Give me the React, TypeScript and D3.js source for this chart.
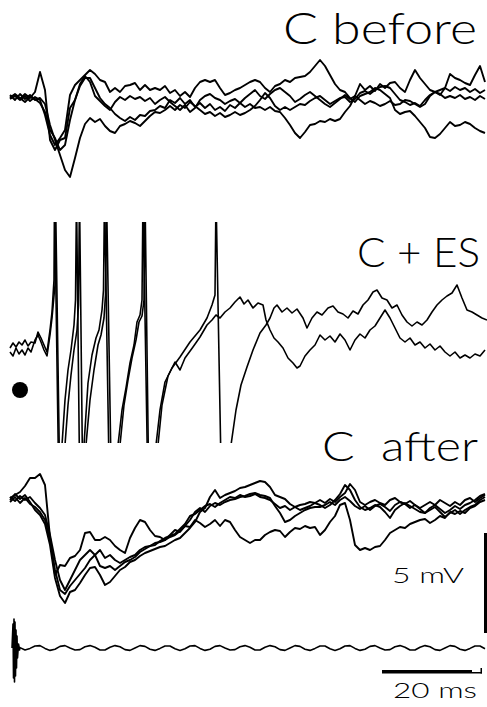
import * as d3 from 'd3';
import { useMemo } from 'react';

// time axis: samples every 1 ms, 0..95 ms
const dt = 1;

// "C before" – four sweeps, mV relative to resting level
const beforeA = [
    0, 0.1, -0.1, 0.15, -0.05, 0.25, 1.25, 0.35, -2.15, -2.65, -2.15, -2.05, -0.55, -0.15, 0.55, 0.95, 0.95, 0.45, -0.05, -0.35,
    -0.55, -0.85, -1.05, -1.2, -1.0, -1.15, -0.9, -0.95, -0.7, -0.65, -0.45, -0.55, -0.15, -0.3, -0.05, -0.35, -0.15, -0.5, -0.3, -0.55,
    -0.35, -0.65, -0.5, -0.7, -0.4, -0.55, -0.3, -0.5, -0.35, -0.55, -0.5, -0.65, -0.5, -0.7, -0.75, -1.05, -1.4, -1.8, -2.05, -1.75,
    -1.4, -1.35, -1.2, -1.25, -1.1, -1.2, -1.1, -0.75, -0.45, 0.05, 0.65, 0.35, 0.55, 0.3, 0.65, 0.45, 0.7, 0.75, 0.45, 0.25,
    0.85, 1.35, 0.95, 0.65, 0.35, 0.25, 0.1, 0.45, 1.15, 0.95, 0.85, 0.7, 0.6, 1.1, 1.55, 0.75,
];
const beforeB = [
    -0.1, 0.05, -0.15, 0.05, -0.2, 0, -0.15, -0.9, -1.9, -2.4, -2.05, -1.65, 0.1, 0.6, 0.85, 1.1, 1.35, 1.15, 0.85, 0.75,
    0.25, 0.45, 0.25, 0.55, 0.6, 0.7, 0.35, 0.6, 0.35, 0.45, 0.35, 0.55, 0.2, 0.35, 0.05, 0.25, 0, 0.45, 0.75, 0.85,
    0.75, 0.85, 0.45, 0.1, 0.2, 0.35, 0.45, 0.6, 0.75, 0.85, 0.75, 0.45, 0.25, 0.55, 0.65, 0.85, 0.75, 0.95, 1.0, 1.05,
    1.25, 1.55, 1.85, 1.55, 1.1, 0.65, 0.35, 0.25, -0.05, -0.25, 0.05, 0.15, 0.25, 0.45, 0.35, 0.15, -0.05, -0.65, -0.85, -0.75,
    -0.7, -0.95, -1.25, -1.55, -2.0, -2.05, -1.85, -1.55, -1.25, -1.45, -1.4, -1.25, -1.35, -1.55, -1.7, -1.8,
];
const beforeC = [
    0.1, -0.15, 0.15, -0.1, 0.1, -0.15, -0.05, -0.35, -1.4, -2.15, -2.9, -3.65, -4.0, -3.05, -2.05, -1.35, -1.05, -1.25, -1.1, -1.45,
    -1.7, -1.8, -1.45, -1.35, -1.2, -1.3, -1.45, -1.2, -0.95, -0.75, -0.8, -0.65, -0.45, -0.65, -0.4, -0.55, -0.25, -0.45, -0.65, -0.85,
    -0.75, -0.95, -0.8, -1.0, -0.9, -0.75, -0.9, -0.8, -0.65, -0.45, -0.15, 0.2, -0.05, -0.45, -0.65, -0.5, -0.65, -0.5, -0.35, -0.4,
    -0.2, -0.05, 0.05, -0.15, -0.35, -0.2, -0.05, 0, -0.25, -0.1, 0.2, 0.3, 0.15, 0.35, 0.5, 0.55, 0.45, 0.15, -0.15, -0.25,
    -0.4, -0.3, -0.45, -0.15, 0.1, 0.25, 0.35, 0.45, 0.3, 0.5, 0.35, 0.45, 0.25, 0.4, 0.2, 0.35,
];
const beforeD = [
    -0.05, 0.15, -0.05, -0.25, 0, -0.1, -0.3, -0.75, -1.65, -2.05, -2.65, -2.4, -1.15, -0.15, 0.65, 1.05, 0.75, 0.05, -0.2, -0.45,
    -0.65, -0.25, 0, -0.15, 0.05, -0.1, 0, -0.2, -0.05, -0.35, -0.15, 0, -0.25, -0.45, -0.65, -0.4, -0.75, -0.55, -0.15, 0.05,
    0.15, -0.05, -0.15, -0.35, -0.2, -0.1, -0.3, -0.05, 0.15, 0.35, 0.05, -0.1, 0.15, 0.35, 0.45, 0.25, 0.05, -0.25, -0.1, 0.1,
    0.25, 0.05, -0.15, -0.35, -0.5, -0.3, -0.1, 0.1, -0.1, 0.05, -0.15, -0.35, -0.2, -0.3, -0.45, -0.35, -0.2, -0.4, -0.35, -0.15,
    -0.2, -0.35, -0.5, -0.35, 0.05, 0.25, 0.15, -0.05, 0.05, -0.05, 0.1, -0.1, 0, -0.15, 0.05, -0.1,
];

// "C + ES" – two sweeps with spikes, [ms, mV] (spikes clipped by the panel)
const esP: [number, number][] = [
    [0, -0.15], [0.6, 0.1], [1.2, -0.1], [1.8, 0.15], [2.4, 0], [3, 0.25], [3.6, -0.05], [4.2, 0.15], [5, 0.1], [5.6, 0.65],
    [6.2, 0.35], [6.8, 0], [7.4, -0.35], [8, 0.75], [8.4, 1.65], [8.8, 3.25], [8.9, 7.5], [9.7, -6], [10.4, -5], [11, -2.75],
    [11.6, -1.25], [12.2, -0.25], [12.8, 1.0], [13.1, 2.25], [13.3, 7.5], [13.9, -6], [14.8, -5], [15.6, -1.9], [16.4, -0.5], [17.2, 0.35],
    [17.8, 0.75], [18.4, 1.75], [18.7, 2.75], [18.9, 7.5], [19.8, -6], [21.6, -5], [22.4, -3.25], [23.2, -2.15], [24, -0.9], [24.8, 0],
    [25.4, 1.15], [26, 1.5], [26.4, 2.25], [26.6, 7.5], [27.5, -6], [29.2, -5], [30, -3.25], [31, -1.85], [32.4, -1.15], [34, -0.6],
    [36, 0.15], [38, 0.75], [39.4, 1.35], [40.4, 2.0], [41, 2.5], [41.2, 7.5], [42.2, -6], [44.2, -5], [45.2, -3.25], [46.2, -2],
    [47.4, -1.1], [48.6, -0.25], [50, 0.6], [51.2, 1.0], [52, 1.35], [52.8, 1.85], [53.4, 2.0], [54.4, 1.65], [55.4, 1.85], [56.4, 1.6],
    [57.4, 1.8], [58.6, 1.35], [59.4, 0.85], [60.4, 1.35], [61.4, 1.65], [62.4, 1.5], [63.6, 1.85], [64.6, 1.95], [65.6, 1.65], [66.6, 1.55],
    [67.6, 1.35], [68.6, 1.7], [69.6, 1.55], [70.6, 2.0], [71.6, 2.25], [72.6, 2.65], [73.4, 2.75], [74.4, 2.35], [75.4, 2.25], [76.4, 1.85],
    [77.4, 2.0], [78.4, 1.5], [79.4, 1.15], [80.4, 0.95], [81.4, 1.15], [82.4, 1.0], [83.4, 1.25], [84.4, 1.65], [85.4, 2.0], [86.4, 2.25],
    [87.4, 2.45], [88.4, 2.6], [89.4, 3.0], [90.4, 2.35], [91.4, 1.75], [92.4, 1.65], [93.4, 1.5], [94.4, 1.35], [95.4, 1.25],
];
const esQ: [number, number][] = [
    [0, -0.35], [0.6, -0.55], [1.2, -0.15], [1.8, -0.45], [2.4, -0.25], [3, -0.5], [3.6, -0.15], [4.2, -0.35], [5, 0.25], [5.6, 0.5],
    [6.2, 0.15], [6.8, -0.25], [7.4, -0.55], [8, 0.5], [8.4, 1.35], [9, 3.0], [9.1, 7.5], [9.9, -6], [11, -5], [11.6, -3],
    [12.2, -1.5], [12.8, -0.25], [13.4, 0.75], [13.7, 2.0], [13.9, 7.5], [14.5, -6], [15.2, -5], [16, -2.75], [16.8, -1.25], [17.6, 0],
    [18.2, 0.5], [18.8, 1.35], [19.1, 2.5], [19.3, 7.5], [20.2, -6], [22, -5], [22.8, -3], [23.6, -1.75], [24.4, -0.65], [25.2, 0.25],
    [25.8, 1.15], [26.4, 1.45], [26.8, 2.25], [27, 7.5], [27.7, -6], [29.6, -5], [30.4, -3], [31.6, -1.55], [33, -0.85], [34, -1.25],
    [35, -0.65], [36.6, -0.1], [38, 0.4], [39.4, 1.0], [40.4, 1.25], [41.2, 1.5], [42, 1.35], [43, 1.65], [44, 1.85], [45, 2.15],
    [46, 2.4], [46.8, 2.05], [47.6, 2.25], [48.6, 1.85], [49.6, 2.1], [50.6, 2.0], [51.2, 1.25], [52, 0.75], [52.8, 0.35], [53.6, 0.15],
    [54.6, -0.15], [55.6, -0.65], [56.6, -0.9], [57.4, -1.15], [58, -1.05], [59, -0.55], [60, -0.25], [61, 0], [62, 0.5], [63, 0.25],
    [64, 0.45], [65, 0.15], [66, 0.55], [67, 0.25], [68, -0.25], [69, 0.25], [70, 0.55], [71, 0.35], [72, 0.75], [73, 0.95],
    [74, 1.35], [75, 1.75], [76, 1.35], [77, 0.85], [78, 0.35], [79, 0.15], [80, 0.35], [81, 0], [82, 0.15], [83, -0.15],
    [84, 0.05], [85, -0.25], [86, -0.05], [87, -0.35], [88, -0.55], [89, -0.35], [90, -0.65], [91, -0.5], [92, -0.65], [93, -0.45],
    [94, -0.55], [95, -0.25],
];

// "C after" – four sweeps
const afterA = [
    0.1, 0.25, 0.4, 0.7, 1.1, 1.1, 1.3, 0.75, -1.85, -3.75, -3.25, -3.3, -2.9, -2.8, -2.5, -1.65, -1.6, -2.0, -2.0, -1.85,
    -2.0, -2.3, -2.5, -2.65, -1.9, -1.4, -1.0, -1.1, -1.5, -1.8, -1.85, -2.0, -1.75, -1.5, -1.6, -1.3, -1.35, -1.0, -1.15, -1.35,
    -1.2, -1.0, -1.3, -1.0, -1.1, -1.5, -1.85, -2.0, -2.15, -2.0, -2.0, -1.75, -1.6, -1.5, -1.55, -1.85, -1.6, -1.4, -1.45, -1.3,
    -1.4, -1.35, -1.75, -1.5, -1.1, -0.8, -0.25, -0.15, -1.0, -2.25, -2.5, -2.4, -2.5, -2.35, -2.3, -2.0, -1.65, -1.5, -1.35, -1.4,
    -1.2, -1.1, -1.0, -0.95, -1.15, -1.0, -0.8, -0.9, -0.6, -0.7, -0.55, -0.65, -0.4, -0.3, -0.1, 0,
];
const afterB = [
    0, 0.3, 0.05, 0.25, -0.1, -0.5, -0.75, -1.2, -2.25, -3.9, -4.8, -5.15, -4.6, -4.5, -4.15, -3.75, -3.4, -3.35, -3.75, -4.25,
    -4.1, -3.8, -3.5, -3.35, -3.1, -3.0, -2.8, -2.65, -2.55, -2.45, -2.35, -2.3, -2.15, -2.0, -1.9, -1.65, -1.4, -1.1, -0.6, -0.4,
    0.15, 0.5, 0.1, 0.25, 0.35, 0.45, 0.6, 0.65, 0.75, 0.85, 0.95, 0.9, 0.65, 0.25, 0.15, 0.05, -0.2, -0.35, -0.25, -0.2,
    -0.1, -0.15, -0.25, -0.4, -0.25, 0, 0.3, 0.75, 0.5, 0, -0.35, -0.5, -0.4, -0.25, -0.35, -0.6, -0.9, -0.5, -0.3, -0.15,
    -0.3, -0.45, -0.6, -0.65, -0.5, -0.35, -0.6, -0.85, -0.65, -0.5, -0.7, -0.5, -0.35, -0.25, 0, 0.15,
];
const afterC = [
    -0.1, 0.15, -0.15, 0.1, -0.2, -0.35, -0.6, -1.0, -2.0, -3.5, -4.5, -4.7, -4.3, -4.0, -3.7, -3.4, -3.0, -2.75, -2.5, -2.9,
    -2.75, -3.0, -3.15, -3.0, -2.85, -2.75, -2.5, -2.35, -2.3, -2.15, -2.1, -2.0, -1.85, -1.75, -1.55, -1.3, -1.0, -0.6, -0.4, -0.6,
    -0.3, -0.15, -0.25, -0.1, 0, 0.05, 0.15, 0.2, 0.3, 0.35, 0.25, 0.2, 0.1, -0.3, -0.65, -1.1, -1.0, -0.8, -0.65, -0.5,
    -0.4, -0.35, -0.35, -0.25, -0.1, -0.25, 0, 0.15, -0.05, -0.3, -0.45, -0.3, -0.5, -0.3, -0.2, -0.35, -0.55, -0.25, -0.1, -0.2,
    -0.4, -0.25, -0.45, -0.65, -0.4, -0.25, -0.45, -0.65, -0.5, -0.3, -0.45, -0.25, -0.15, 0, 0.2, 0.3,
];
const afterD = [
    0.15, -0.05, 0.2, 0, 0.15, -0.15, -0.4, -0.75, -1.75, -3.0, -4.0, -4.5, -4.0, -3.5, -3.0, -2.75, -2.5, -2.75, -3.3, -3.4,
    -3.3, -3.5, -3.3, -3.1, -3.0, -2.85, -2.6, -2.45, -2.3, -2.25, -2.05, -1.9, -1.8, -1.7, -1.45, -1.2, -0.8, -0.7, -0.5, -0.3,
    -0.2, -0.35, -0.15, 0, 0.15, 0.1, 0.25, 0.15, 0.2, 0.3, 0.15, 0.1, 0, -0.2, -0.4, -0.3, -0.5, -0.35, -0.5, -0.4,
    -0.3, -0.15, 0, -0.15, 0.05, -0.1, 0.15, 0.35, 0.8, 0.5, -0.1, -0.25, -0.1, 0, -0.15, -0.25, 0, 0.1, -0.1, -0.2,
    -0.05, -0.25, -0.4, -0.25, -0.1, -0.25, 0, -0.15, -0.3, -0.1, -0.25, 0, 0.1, -0.1, 0.1, 0.25,
];

// stimulus monitor: artifact [ms, mV] then the ripple from 2 ms on, 1 ms apart
const stimArtifact: [number, number][] = [
    [0.4, 0], [0.6, 1.2], [0.7, -1.5], [0.8, 1.45], [0.9, -1.7], [1.0, 1.3], [1.1, -1.4], [1.2, 0.9], [1.3, -1.0], [1.4, 0.6],
    [1.5, -0.5], [1.7, 0.2], [1.9, -0.1],
];
const stimWave = [
    0.02, -0.1, -0.02, 0.1, 0.12, -0.02, -0.12, -0.06, 0.08, 0.12,
    0.0, -0.1, -0.08, 0.06, 0.12, 0.04, -0.1, -0.1, 0.04, 0.12,
    0.06, -0.08, -0.12, 0.0, 0.12, 0.08, -0.06, -0.12, -0.02, 0.1,
    0.1, -0.04, -0.12, -0.04, 0.1, 0.12, -0.02, -0.12, -0.06, 0.08,
    0.12, 0.0, -0.1, -0.08, 0.06, 0.12, 0.04, -0.1, -0.1, 0.04,
    0.12, 0.06, -0.08, -0.12, 0.0, 0.12, 0.08, -0.06, -0.12, -0.02,
    0.1, 0.1, -0.04, -0.12, -0.04, 0.1, 0.12, -0.02, -0.12, -0.06,
    0.08, 0.12, 0.0, -0.1, -0.08, 0.06, 0.12, 0.04, -0.1, -0.1,
    0.04, 0.12, 0.06, -0.08, -0.12, 0.0, 0.12, 0.08, -0.06, -0.12,
    -0.02, 0.1, 0.1, -0.04,
];

const panelLabels = ['C before', 'C + ES', 'C  after'];
const scaleMv = 5;
const scaleMs = 20;

const width = 487;
const height = 707;
const pxPerMv = 20;
const font = "'Century Gothic', 'URW Gothic', Lato, 'DejaVu Sans', sans-serif";

const toPairs = (values: number[], t0 = 0): [number, number][] => values.map((v, i) => [t0 + i * dt, v]);

export default function App() {
    const x = useMemo(() => d3.scaleLinear().domain([0, 95]).range([10, 485]), []);
    const yAt = (base: number) =>
        d3
            .scaleLinear()
            .domain([-1, 1])
            .range([base + pxPerMv, base - pxPerMv]);

    const y1 = yAt(97);
    const y2 = yAt(345);
    const y3 = yAt(500);
    const y4 = yAt(648);

    const lineFor = (y: d3.ScaleLinear<number, number>) =>
        d3
            .line<[number, number]>()
            .x((d) => x(d[0]))
            .y((d) => y(d[1]));

    const traceStyle = { fill: 'none', stroke: '#000', strokeWidth: 1.9, strokeLinejoin: 'round' as const };
    const labelStyle = { whiteSpace: 'pre' as const };

    const stim = [...stimArtifact, ...toPairs(stimWave, 2)];

    return (
        <>
            <style>{'body{margin:0;background:#fff}'}</style>
            <svg width={width} height={height} style={{ display: 'block', background: '#fff' }}>
                <defs>
                    <clipPath id="esClip">
                        <rect x={0} y={y2(6.15)} width={width} height={y2(-4.9) - y2(6.15)} />
                    </clipPath>
                </defs>

                {/* labels */}
                <g fontFamily={font} fontWeight={300} fill="#000">
                    <text x={477} y={44} textAnchor="end" fontSize={43} textLength={194} lengthAdjust="spacingAndGlyphs" style={labelStyle}>
                        {panelLabels[0]}
                    </text>
                    <text x={480} y={267} textAnchor="end" fontSize={42} textLength={123} lengthAdjust="spacingAndGlyphs" style={labelStyle}>
                        {panelLabels[1]}
                    </text>
                    <text x={478} y={461} textAnchor="end" fontSize={42} textLength={156} lengthAdjust="spacingAndGlyphs" style={labelStyle}>
                        {panelLabels[2]}
                    </text>
                    <text x={464} y={583} textAnchor="end" fontSize={22} textLength={72} lengthAdjust="spacingAndGlyphs" style={labelStyle}>
                        {`${scaleMv} mV`}
                    </text>
                    <text x={477} y={698} textAnchor="end" fontSize={22} textLength={84} lengthAdjust="spacingAndGlyphs" style={labelStyle}>
                        {`${scaleMs} ms`}
                    </text>
                </g>

                {/* C before */}
                {[beforeA, beforeB, beforeC, beforeD].map((s, i) => (
                    <path key={`b${i}`} d={lineFor(y1)(toPairs(s)) ?? ''} {...traceStyle} />
                ))}

                {/* C + ES */}
                <g clipPath="url(#esClip)">
                    {[esP, esQ].map((s, i) => (
                        <path key={`e${i}`} d={lineFor(y2)(s) ?? ''} {...traceStyle} strokeWidth={1.6} />
                    ))}
                </g>
                <circle cx={x(2)} cy={y2(-2.25)} r={8} fill="#000" />

                {/* C after */}
                {[afterA, afterB, afterC, afterD].map((s, i) => (
                    <path key={`a${i}`} d={lineFor(y3)(toPairs(s)) ?? ''} {...traceStyle} />
                ))}

                {/* stimulus */}
                <path d={lineFor(y4)(stim) ?? ''} {...traceStyle} strokeWidth={1.6} />

                {/* scale bars */}
                <rect x={x(95) - 1} y={y3(-1.65)} width={3} height={y3(-1.65 - scaleMv) - y3(-1.65)} fill="#000" />
                <rect x={x(74.4)} y={670} width={x(74.4 + scaleMs - 2) - x(74.4)} height={3.5} fill="#000" />
                <rect x={x(74.4 + scaleMs - 2)} y={672} width={x(74.4 + scaleMs) - x(74.4 + scaleMs - 2)} height={1.5} fill="#000" />
                <rect x={x(74.4 + scaleMs) - 1.5} y={668} width={1.5} height={5.5} fill="#000" />
            </svg>
        </>
    );
}
